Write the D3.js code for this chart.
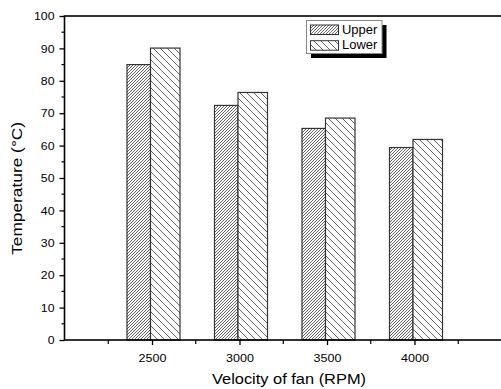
<!DOCTYPE html>
<html><head><meta charset="utf-8">
<script src="https://cdn.jsdelivr.net/npm/d3@7"></script>
<style>body{margin:0;background:#fff}svg{display:block}text{font-family:"Liberation Sans",Arial,sans-serif;fill:#000}</style>
</head><body>
<svg id="c" width="501" height="389"></svg>
<script>
const categories = [2500, 3000, 3500, 4000];
const upper = [85.0, 72.4, 65.3, 59.4];
const lower = [90.1, 76.4, 68.5, 61.9];
const seriesNames = ["Upper", "Lower"];
const yTicks = [0,10,20,30,40,50,60,70,80,90,100];
const xTicks = [2500, 3000, 3500, 4000];

const svg = d3.select("#c");
const L=64.5, R=502, T=16, B=340;
const x = d3.scaleLinear().domain([2000,4500]).range([L,R]);
const y = d3.scaleLinear().domain([0,100]).range([B,T]);

function stretch(sel, f){
  sel.each(function(){
    const n = this.getComputedTextLength();
    this.setAttribute("textLength", n*f);
    this.setAttribute("lengthAdjust","spacingAndGlyphs");
  });
}

const defs = svg.append("defs");
const p1 = defs.append("pattern").attr("id","hUp").attr("patternUnits","userSpaceOnUse")
  .attr("width",3).attr("height",3);
p1.append("rect").attr("width",3).attr("height",3).attr("fill","#fff");
p1.append("path").attr("d","M-1,1 L1,-1 M0,3 L3,0 M2,4 L4,2").attr("stroke","#555").attr("stroke-width",0.9);
const p2 = defs.append("pattern").attr("id","hLo").attr("patternUnits","userSpaceOnUse")
  .attr("width",7).attr("height",7);
p2.append("rect").attr("width",7).attr("height",7).attr("fill","#fff");
p2.append("path").attr("d","M-1,6 L1,8 M0,0 L7,7 M6,-1 L8,1").attr("stroke","#555").attr("stroke-width",0.9);

const g = svg.append("g");
const upW = 23.5, loW = 29.5, off = -1.5;
g.selectAll("rect.up").data(categories).enter().append("rect")
  .attr("x",(d)=>x(d)+off-upW).attr("y",(d,i)=>y(upper[i]))
  .attr("width",upW).attr("height",(d,i)=>B-y(upper[i]))
  .attr("fill","url(#hUp)").attr("stroke","#333").attr("stroke-width",1.2);
g.selectAll("rect.lo").data(categories).enter().append("rect")
  .attr("x",(d)=>x(d)+off).attr("y",(d,i)=>y(lower[i]))
  .attr("width",loW).attr("height",(d,i)=>B-y(lower[i]))
  .attr("fill","url(#hLo)").attr("stroke","#333").attr("stroke-width",1.2);

// axes
const yAx = svg.append("g").attr("transform",`translate(${L},0)`)
  .call(d3.axisLeft(y).tickValues(yTicks).tickSize(5).tickPadding(5).tickFormat(d3.format("d")));
yAx.select(".domain").remove();
yAx.selectAll("text").style("font-size","11.6px").attr("font-family","Liberation Sans, Arial, sans-serif");
stretch(yAx.selectAll("text"),1.06);
yAx.selectAll("line").attr("stroke-width",1.3);
svg.append("g").selectAll("line").data(d3.range(5,100,10)).enter().append("line")
  .attr("x1",L-3).attr("x2",L).attr("y1",d=>y(d)).attr("y2",d=>y(d)).attr("stroke","#000").attr("stroke-width",1.2);

const xAx = svg.append("g").attr("transform",`translate(0,${B})`)
  .call(d3.axisBottom(x).tickValues(xTicks).tickSize(5).tickPadding(8.5).tickFormat(d3.format("d")));
xAx.select(".domain").remove();
xAx.selectAll("text").style("font-size","11.6px").attr("font-family","Liberation Sans, Arial, sans-serif");
stretch(xAx.selectAll("text"),1.08);
xAx.selectAll("line").attr("stroke-width",1.3);
svg.append("g").selectAll("line").data([2250,2750,3250,3750,4250]).enter().append("line")
  .attr("x1",d=>x(d)).attr("x2",d=>x(d)).attr("y1",B).attr("y2",B+4).attr("stroke","#000").attr("stroke-width",1.2);

// frame
svg.append("rect").attr("x",L).attr("y",T).attr("width",R-L).attr("height",B-T)
  .attr("fill","none").attr("stroke","#000").attr("stroke-width",1.6);

// titles
svg.append("text").attr("x",289).attr("y",383.5).attr("text-anchor","middle")
  .style("font-size","15.3px").attr("textLength",154).attr("lengthAdjust","spacingAndGlyphs")
  .text("Velocity of fan (RPM)");
svg.append("text").attr("transform","translate(22,188.4) rotate(-90)").attr("text-anchor","middle")
  .style("font-size","14.2px").attr("textLength",133).attr("lengthAdjust","spacingAndGlyphs")
  .text("Temperature (°C)");

// legend
const lg = svg.append("g");
lg.append("rect").attr("x",311).attr("y",25).attr("width",75.5).attr("height",33).attr("fill","#000");
lg.append("rect").attr("x",306.5).attr("y",20.5).attr("width",75.5).attr("height",33)
  .attr("fill","#fff").attr("stroke","#888").attr("stroke-width",1);
const fills = ["url(#hUp)","url(#hLo)"];
seriesNames.forEach((s,i)=>{
  const yy = 25 + i*15.7;
  lg.append("rect").attr("x",310.5).attr("y",yy).attr("width",28).attr("height",9.5)
    .attr("fill",fills[i]).attr("stroke","#333").attr("stroke-width",1);
  const t = lg.append("text").attr("x",342).attr("y",yy+8.5).style("font-size","12px").text(s);
  stretch(t,1.08);
});
</script>
</body></html>
